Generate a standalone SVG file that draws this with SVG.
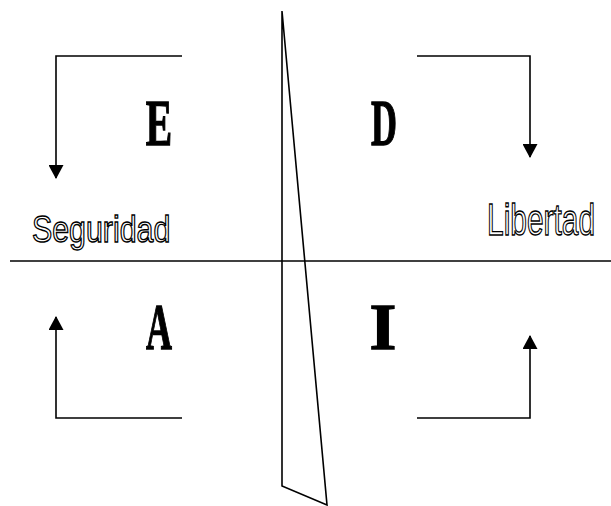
<svg xmlns="http://www.w3.org/2000/svg" width="611" height="506" viewBox="0 0 611 506">
<style>
.ln{fill:none;stroke:#000;stroke-width:1.6}
.big{font-family:"Liberation Serif","Times New Roman",serif;font-weight:bold;font-size:60px;fill:#000;stroke:#000;stroke-width:1.2}
.lab{font-family:"Liberation Sans",Arial,sans-serif;fill:#fff;stroke:#000;stroke-width:1.4}
</style>
<defs>
<marker id="ah" viewBox="0 0 14 15" refX="13" refY="7.5" markerWidth="14" markerHeight="15" markerUnits="userSpaceOnUse" orient="auto">
<path d="M0,0 L14,7.5 L0,15 Z" fill="#000"/>
</marker>
</defs>
<rect width="611" height="506" fill="#fff"/>
<g id="axes">
<line class="ln" x1="10" y1="261" x2="611" y2="261"/>
<polygon class="ln" points="282,11 282,486 327,505"/>
</g>
<g id="connectors">
<polyline class="ln" points="182,56 56,56 56,178" marker-end="url(#ah)"/>
<polyline class="ln" points="417,56 530,56 530,157" marker-end="url(#ah)"/>
<polyline class="ln" points="182,418 56,418 56,317" marker-end="url(#ah)"/>
<polyline class="ln" points="417,418 530,418 530,336" marker-end="url(#ah)"/>
</g>
<g id="E"><text class="big" transform="translate(159,145) scale(0.66,1.08)" text-anchor="middle">E</text></g>
<g id="D"><text class="big" transform="translate(384,145) scale(0.6,1.08)" text-anchor="middle">D</text></g>
<g id="A"><text class="big" transform="translate(159,349) scale(0.6,1.08)" text-anchor="middle">A</text></g>
<g id="I"><text class="big" transform="translate(383,349) scale(1.15,1.08)" text-anchor="middle">I</text></g>
<g id="seguridad"><text class="lab" transform="translate(32,242) scale(0.82,1)" font-size="37">Seguridad</text></g>
<g id="libertad"><text class="lab" transform="translate(487,235) scale(0.68,1)" font-size="44">Libertad</text></g>
</svg>
